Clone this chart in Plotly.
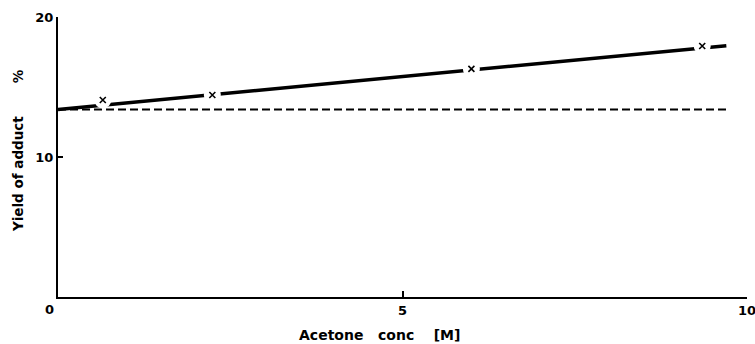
import plotly.graph_objects as go

# measured points (x markers)
conc_pts = [0.65, 2.24, 6.0, 9.35]
yield_pts = [14.07, 14.43, 16.29, 17.93]

# fitted solid line ends
fit_x = [0.0, 9.7]
fit_y = [13.4, 17.95]

# dashed reference level
ref_x = [0.0, 9.7]
ref_y = [13.4, 13.4]

x_ticks = [5, 10]
y_ticks = [10, 20]

font_family = "DejaVu Sans"

fig = go.Figure()
fig.add_trace(go.Scatter(x=ref_x, y=ref_y, mode="lines",
                         line=dict(color="black", width=2, dash="8px,4px"),
                         hoverinfo="skip", showlegend=False))
fig.add_trace(go.Scatter(x=fit_x, y=fit_y, mode="lines",
                         line=dict(color="black", width=3.5),
                         hoverinfo="skip", showlegend=False))
# white gaps behind markers
fig.add_trace(go.Scatter(x=conc_pts, y=yield_pts, mode="markers",
                         marker=dict(symbol="circle", size=17, color="white",
                                     line=dict(width=0)),
                         hoverinfo="skip", showlegend=False))
fig.add_trace(go.Scatter(x=conc_pts, y=yield_pts, mode="markers",
                         marker=dict(symbol="x-thin", size=6,
                                     line=dict(color="black", width=1.6)),
                         showlegend=False))

fig.add_annotation(x=0, y=0, xref="x", yref="y", text="<b>0</b>",
                   showarrow=False, xshift=-9, yshift=-12,
                   font=dict(family=font_family, size=13, color="black"))

# x-axis title (slightly left of centre, as in the original)
fig.add_annotation(x=0.466, y=0, xref="paper", yref="paper",
                   text="<b>Acetone&nbsp;&nbsp;&nbsp;conc&nbsp;&nbsp;&nbsp;&nbsp;[M]</b>",
                   showarrow=False, yanchor="middle", xanchor="center", yshift=-38,
                   font=dict(family=font_family, size=14, color="black"))

# y-axis title
fig.add_annotation(x=0, y=0.521, xref="paper", yref="paper",
                   text="<b>Yield of adduct&nbsp;&nbsp;&nbsp;&nbsp;&nbsp;&nbsp;&nbsp;%</b>",
                   showarrow=False, textangle=-90, xanchor="center", yanchor="middle",
                   xshift=-40,
                   font=dict(family=font_family, size=13.5, color="black"))

fig.update_layout(
    width=755, height=344,
    margin=dict(l=58, r=8, t=17, b=47, autoexpand=False),
    paper_bgcolor="white", plot_bgcolor="white",
    font=dict(family=font_family, size=13, color="black"),
)
fig.update_xaxes(range=[0, 10], tickvals=x_ticks,
                 ticktext=["<b>%d</b>" % v for v in x_ticks],
                 automargin=False, ticklabeloverflow="allow",
                 showgrid=False, zeroline=False,
                 showline=True, linecolor="black", linewidth=2,
                 ticks="inside", ticklen=6, tickwidth=1.5, tickcolor="black")
fig.update_yaxes(range=[0, 20], tickvals=y_ticks,
                 ticktext=["<b>%d</b>" % v for v in y_ticks],
                 automargin=False,
                 showgrid=False, zeroline=False,
                 showline=True, linecolor="black", linewidth=2,
                 ticks="inside", ticklen=5, tickwidth=1.5, tickcolor="black")

fig.write_html("out.html", config={"displayModeBar": False},
               post_script="document.body.style.margin='0';document.body.style.overflow='hidden';")
